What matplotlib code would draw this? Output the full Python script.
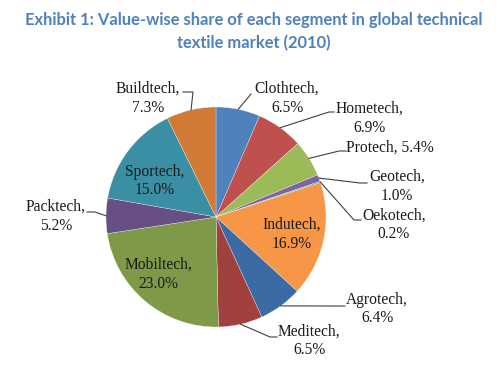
import numpy as np
import matplotlib
matplotlib.use("Agg")
import matplotlib.pyplot as plt

# segment shares (clockwise from the top)
segments = ["Clothtech", "Hometech", "Protech", "Geotech", "Oekotech", "Indutech",
            "Agrotech", "Meditech", "Mobiltech", "Packtech", "Sportech", "Buildtech"]
shares = [6.5, 6.9, 5.4, 1.0, 0.2, 16.9, 6.4, 6.5, 23.0, 5.2, 15.0, 7.3]
colors = ["#4F81BD", "#C0504D", "#9BBB59", "#8064A2", "#4BACC6", "#F79646",
          "#3C6AA5", "#A0413E", "#7E9A48", "#674F86", "#3A8FA5", "#D07A35"]

# layout (image pixels, y from top)
W, H = 500, 370
cx, cy, R = 216, 217, 110
# label centre, line anchor near text, elbow ; None -> label inside the pie
label_pos = {
    "Clothtech": ((287, 98), (251, 94), (251, 94)),
    "Hometech": ((369, 118), (334, 112), (329, 112)),
    "Protech": ((390, 148), (346, 151), (339, 151)),
    "Geotech": ((397, 186), (367, 183), (360, 183)),
    "Oekotech": ((394, 225), (361, 220), (354, 220)),
    "Indutech": ((292, 234), None, None),
    "Agrotech": ((377, 309), (345, 306), (338, 306)),
    "Meditech": ((309, 341), (277, 337), (270, 337)),
    "Mobiltech": ((158, 274), None, None),
    "Packtech": ((56, 216), (87, 212), (95, 212)),
    "Sportech": ((155, 181), None, None),
    "Buildtech": ((148, 98), (183, 92), (193, 92)),
}

fig = plt.figure(figsize=(W / 100, H / 100), dpi=100)
ax = fig.add_axes([0, 0, 1, 1])

ax.pie(shares, colors=colors, startangle=90, counterclock=False,
       center=(cx, H - cy), radius=R,
       wedgeprops=dict(edgecolor="white", linewidth=0.2))
ax.set_xlim(0, W)
ax.set_ylim(0, H)
ax.set_aspect("equal")
ax.axis("off")

total = sum(shares)
cum = np.cumsum([0] + shares[:-1])
for name, val, start in zip(segments, shares, cum):
    mid = np.deg2rad((start + val / 2) / total * 360)
    px = cx + R * np.sin(mid)
    py = cy - R * np.cos(mid)
    (tx, ty), anchor, elbow = label_pos[name]
    if name == "Protech":
        txt = f"{name}, {val:.1f}%"
    else:
        txt = f"{name},\n{val:.1f}%"
    ax.text(tx, H - ty, txt, ha="center", va="center", fontsize=11.2,
            family="Liberation Serif", color="#1a1a1a", linespacing=1.25)
    if anchor is not None:
        xs = [anchor[0], elbow[0], px]
        ys = [H - anchor[1], H - elbow[1], H - py]
        ax.plot(xs, ys, color="#404040", lw=0.8)

ax.text(W / 2 + 4, H - 20, "Exhibit 1: Value-wise share of each segment in global technical",
        ha="center", va="center", fontsize=11.9, fontweight="bold",
        family="Lato", color="#4F81BD")
ax.text(W / 2 + 4, H - 43, "textile market (2010)",
        ha="center", va="center", fontsize=11.9, fontweight="bold",
        family="Lato", color="#4F81BD")

fig.savefig("out.png", dpi=100)
